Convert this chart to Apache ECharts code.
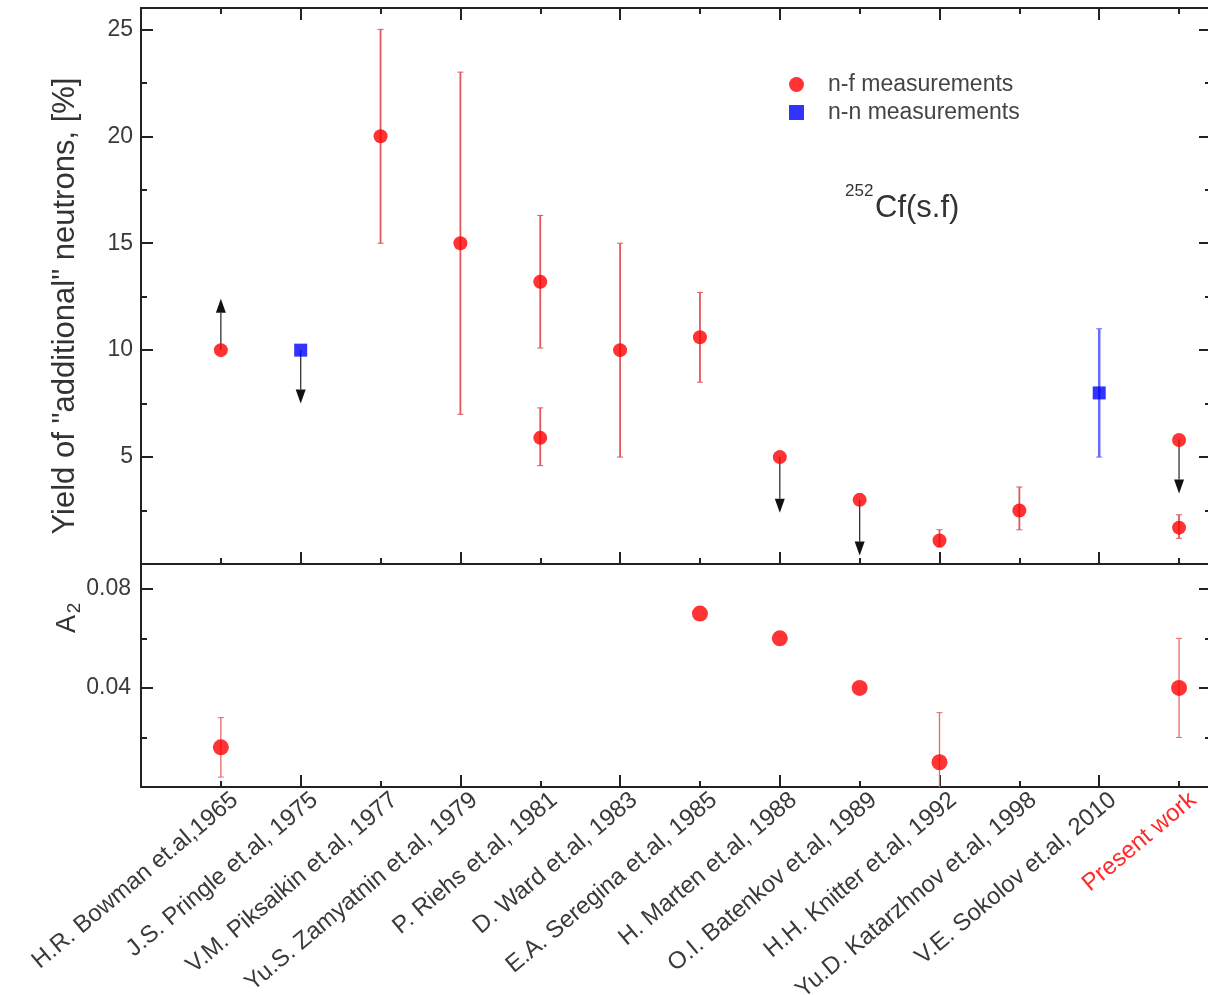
<!DOCTYPE html>
<html>
<head>
<meta charset="utf-8">
<script src="https://cdn.jsdelivr.net/npm/echarts@6/dist/echarts.min.js"></script>
<style>html,body{margin:0;padding:0;background:#fff}#c{width:1208px;height:995px}</style>
</head>
<body>
<div id="c"></div>
<script>
// ---- data ----
const categories = [
  'H.R. Bowman et.al,1965', 'J.S. Pringle et.al, 1975', 'V.M. Piksaikin et.al, 1977',
  'Yu.S. Zamyatnin et.al, 1979', 'P. Riehs et.al, 1981', 'D. Ward et.al, 1983',
  'E.A. Seregina et.al, 1985', 'H. Marten et.al, 1988', 'O.I. Batenkov et.al, 1989',
  'H.H. Knitter et.al, 1992', 'Yu.D. Katarzhnov et.al, 1998', 'V.E. Sokolov et.al, 2010',
  'Present work'
];
// category positions are 1..13
const nfX = [1, 3, 4, 5, 5, 6, 7, 8, 9, 10, 11, 13, 13];
const nfY = [10, 20, 15, 13.2, 5.9, 10, 10.6, 5, 3, 1.1, 2.5, 5.8, 1.7];
const nfErr = [[3, 15, 25], [4, 7, 23], [5, 10.1, 16.3], [5, 4.6, 7.3], [6, 5, 15],
               [7, 8.5, 12.7], [10, 0.8, 1.6], [11, 1.6, 3.6], [13, 1.2, 2.3]];
const nnX = [2, 12];
const nnY = [10, 8];
const nnErr = [[12, 5, 11]];
const limitArrows = [[1, 10, 12.4], [2, 10, 7.5], [8, 5, 2.4], [9, 3, 0.4], [13, 5.8, 3.3]];
const a2X = [1, 7, 8, 9, 10, 13];
const a2Y = [0.016, 0.07, 0.06, 0.04, 0.01, 0.04];
const a2Err = [[1, 0.004, 0.028], [10, -0.01, 0.03], [13, 0.02, 0.06]];
const yTopTicks = [5, 10, 15, 20, 25];
const yBotTicks = [0.04, 0.08];

// ---- chart ----
const FONT = '"Liberation Sans", Arial, sans-serif';
const AX = '#222';
const chart = echarts.init(document.getElementById('c'));

function ax(gridIndex, position, min, max, interval, tickLen, showLine) {
  return {
    type: 'value', gridIndex, position, min, max, interval,
    axisLine: {show: showLine, onZero: false, lineStyle: {color: AX, width: 2}},
    axisTick: {show: tickLen > 0, inside: true, length: tickLen, lineStyle: {color: AX, width: 2}},
    axisLabel: {show: false},
    splitLine: {show: false}
  };
}
const XMIN = 0, XMAX = 13.4;
const xAxes = [
  ax(0, 'bottom', XMIN, XMAX, 1, 6, true),
  ax(0, 'bottom', XMIN, XMAX, 2, 12, false),
  ax(0, 'top', XMIN, XMAX, 1, 6, true),
  ax(0, 'top', XMIN, XMAX, 2, 12, false),
  ax(1, 'bottom', XMIN, XMAX, 1, 6, true),
  ax(1, 'bottom', XMIN, XMAX, 2, 12, false),
  Object.assign(ax(2, 'bottom', XMIN, XMAX, 1, 0, false), {
    axisLabel: {
      show: true, rotate: 40, margin: 10, fontSize: 24, fontFamily: FONT,
      showMaxLabel: false, showMinLabel: false, hideOverlap: false,
      color: (v) => (Number(v) === categories.length ? '#ff2a2a' : '#3a3a3a'),
      formatter: (v) => {
        const i = Math.round(v);
        return (Math.abs(v - i) < 1e-6 && i >= 1 && i <= categories.length) ? categories[i - 1] : '';
      }
    }
  })
];
const isIn = (arr, v) => arr.some(t => Math.abs(t - v) < 1e-9);
const yAxes = [
  ax(0, 'left', 0, 26, 2.5, 6, true),
  Object.assign(ax(0, 'left', 0, 26, 5, 12, false), {
    axisLabel: {show: true, fontSize: 23, color: '#3a3a3a', fontFamily: FONT, margin: 8,
      formatter: v => isIn(yTopTicks, v) ? String(v) : ''},
    name: 'Yield of "additional" neutrons, [%]', nameLocation: 'middle', nameRotate: 90, nameGap: 60,
    nameTextStyle: {fontSize: 31, color: '#333', fontFamily: FONT, padding: [0, 40, 0, 0]}
  }),
  ax(0, 'right', 0, 26, 2.5, 6, true),
  ax(0, 'right', 0, 26, 5, 12, false),
  ax(1, 'left', 0, 0.09, 0.02, 6, true),
  Object.assign(ax(1, 'left', 0, 0.09, 0.04, 12, false), {
    axisLabel: {show: true, fontSize: 23, color: '#3a3a3a', fontFamily: FONT, margin: 10,
      formatter: v => isIn(yBotTicks, v) ? String(v) : ''}
  }),
  ax(1, 'right', 0, 0.09, 0.02, 6, true),
  ax(1, 'right', 0, 0.09, 0.04, 12, false),
  Object.assign(ax(2, 'left', 0, 1, 1, 0, false), {show: false})
];

function clampY(y, cs) { return Math.max(cs.y, Math.min(cs.y + cs.height, y)); }
function errRender(color, width) {
  return function (params, api) {
    const cs = params.coordSys;
    const x = api.value(0);
    const p1 = api.coord([x, api.value(1)]);
    const p2 = api.coord([x, api.value(2)]);
    const y1 = clampY(p1[1], cs), y2 = clampY(p2[1], cs);
    const st = {stroke: color, lineWidth: width};
    const cw = 3;
    const kids = [{type: 'line', shape: {x1: p1[0], y1: y1, x2: p2[0], y2: y2}, style: st}];
    if (y1 === p1[1]) kids.push({type: 'line', shape: {x1: p1[0] - cw, y1: y1, x2: p1[0] + cw, y2: y1}, style: {stroke: color, lineWidth: 1}});
    if (y2 === p2[1]) kids.push({type: 'line', shape: {x1: p2[0] - cw, y1: y2, x2: p2[0] + cw, y2: y2}, style: {stroke: color, lineWidth: 1}});
    return {type: 'group', children: kids};
  };
}
function arrowRender(params, api) {
  const x = api.value(0);
  const p1 = api.coord([x, api.value(1)]);
  const p2 = api.coord([x, api.value(2)]);
  const dir = p2[1] > p1[1] ? 1 : -1;
  const hl = 14, hw = 5;
  const base = p2[1] - dir * hl;
  return {type: 'group', children: [
    {type: 'line', shape: {x1: p1[0], y1: p1[1], x2: p1[0], y2: base}, style: {stroke: '#333', lineWidth: 1.3}},
    {type: 'polygon', shape: {points: [[p2[0], p2[1]], [p2[0] - hw, base], [p2[0] + hw, base]]}, style: {fill: '#111'}}
  ]};
}
const zip = (a, b) => a.map((v, i) => [v, b[i]]);

const option = {
  animation: false,
  backgroundColor: '#fff',
  textStyle: {fontFamily: FONT},
  grid: [
    {left: 141, top: 8, width: 1070, height: 556, outerBoundsMode: 'none', containLabel: false},
    {left: 141, top: 564, width: 1070, height: 223, outerBoundsMode: 'none', containLabel: false},
    {left: 155, top: 564, width: 1070, height: 223, outerBoundsMode: 'none', containLabel: false}
  ],
  xAxis: xAxes,
  yAxis: yAxes,
  legend: {
    orient: 'vertical', left: 784, top: 68, itemWidth: 53, itemHeight: 15, itemGap: 5,
    textStyle: {fontSize: 23, color: '#444', fontFamily: FONT},
    data: [
      {name: 'n-f measurements', icon: 'circle'},
      {name: 'n-n measurements', icon: 'path://M0,0 L10,0 L10,10 L0,10 Z'}
    ]
  },
  graphic: [
    {type: 'text', x: 845, y: 191, style: {text: '252', font: '17px ' + FONT, fill: '#333', textVerticalAlign: 'middle'}},
    {type: 'text', x: 875, y: 208, style: {text: 'Cf(s.f)', font: '31px ' + FONT, fill: '#333', textVerticalAlign: 'middle'}},
    {type: 'text', x: 68, y: 624, rotation: Math.PI / 2, style: {text: 'A', font: '27px ' + FONT, fill: '#333', textAlign: 'center', textVerticalAlign: 'middle'}},
    {type: 'text', x: 75, y: 608, rotation: Math.PI / 2, style: {text: '2', font: '19px ' + FONT, fill: '#333', textAlign: 'center', textVerticalAlign: 'middle'}}
  ],
  series: [
    {type: 'custom', xAxisIndex: 0, yAxisIndex: 0, renderItem: errRender('#e05858', 1.8), data: nfErr, encode: {x: 0, y: [1, 2]}, z: 2},
    {type: 'custom', xAxisIndex: 0, yAxisIndex: 0, renderItem: errRender('#6a6aff', 2.5), data: nnErr, encode: {x: 0, y: [1, 2]}, z: 2},
    {type: 'custom', xAxisIndex: 0, yAxisIndex: 0, renderItem: arrowRender, data: limitArrows, encode: {x: 0, y: [1, 2]}, z: 2},
    {type: 'custom', xAxisIndex: 4, yAxisIndex: 4, renderItem: errRender('#e86868', 1.3), data: a2Err, encode: {x: 0, y: [1, 2]}, z: 2},
    {name: 'n-f measurements', type: 'scatter', xAxisIndex: 0, yAxisIndex: 0, symbol: 'circle', symbolSize: 14,
      itemStyle: {color: '#ff0000'}, data: zip(nfX, nfY), z: 5},
    {name: 'n-n measurements', type: 'scatter', xAxisIndex: 0, yAxisIndex: 0, symbol: 'rect', symbolSize: 13,
      symbolKeepAspect: true, itemStyle: {color: '#0000ff'}, data: zip(nnX, nnY), z: 5},
    {name: 'n-f measurements', type: 'scatter', xAxisIndex: 4, yAxisIndex: 4, symbol: 'circle', symbolSize: 16,
      itemStyle: {color: '#ff0000'}, data: zip(a2X, a2Y), z: 5}
  ]
};
chart.setOption(option);
</script>
</body>
</html>
